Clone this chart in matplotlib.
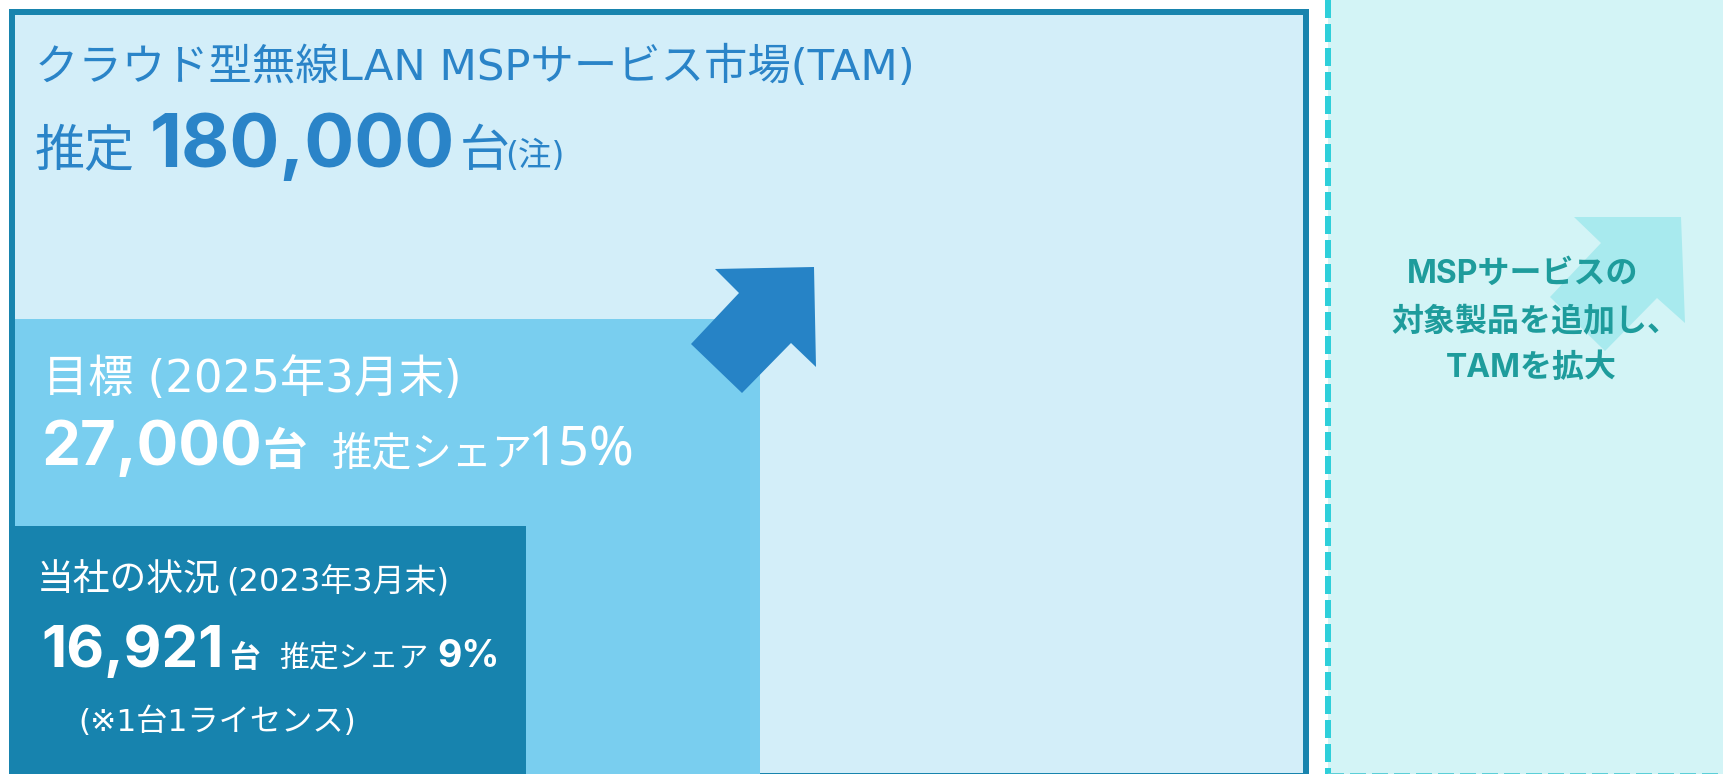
import matplotlib
matplotlib.use("Agg")
import matplotlib.pyplot as plt
from matplotlib.patches import Rectangle, Polygon

REG = ['DejaVu Sans', 'Noto Sans CJK JP']
NUM = ['Noto Sans', 'Noto Sans CJK JP']
BOLD = ['Inter', 'Noto Sans CJK JP']
plt.rcParams['font.family'] = REG

# ---- data ----
box_titles = ["クラウド型無線LAN MSPサービス市場(TAM)", "目標 (2025年3月末)", "当社の状況"]
box_units = [180000, 27000, 16921]
box_shares = [None, 15, 9]
current_period = "(2023年3月末)"
license_note = "(※1台1ライセンス)"
tam_note = "(注)"
expand_lines = ["MSPサービスの", "対象製品を追加し、", "TAMを拡大"]

W, H = 1723, 774
DPI = 100
PT = 72.0 / DPI  # px -> pt

fig = plt.figure(figsize=(W / DPI, H / DPI), dpi=DPI)
ax = fig.add_axes([0, 0, 1, 1])
ax.set_xlim(0, W)
ax.set_ylim(H, 0)
ax.axis('off')
fig.patch.set_facecolor('white')

c_border = '#1884AE'
c_outer = '#D3EEF9'
c_mid = '#79CEEF'
c_dark = '#1783AE'
c_arrow = '#2683C6'
c_title = '#2A84C8'
c_right = '#D3F4F6'
c_dash = '#2ECFDA'
c_rarrow = '#A8EAEE'
c_teal = '#1E9C9C'

# right region (dashed)
ax.add_patch(Rectangle((1328, -20), 500, 796, facecolor=c_right, edgecolor='none', zorder=1))
ax.plot([1328, 1328], [0, 776], color=c_dash, lw=6 * PT, linestyle=(0, (3, 1)),
        dash_capstyle='butt', zorder=2)
ax.plot([1328, 1723], [773.5, 773.5], color='#5CCFD8', lw=2 * PT, linestyle=(0, (8, 3)),
        dash_capstyle='butt', zorder=2)

# outer TAM box
ax.add_patch(Rectangle((12, 12), 1294, 764, facecolor=c_outer, edgecolor=c_border,
                       lw=6 * PT, zorder=2, joinstyle='miter'))
# target box
ax.add_patch(Rectangle((15, 319), 745, 470, facecolor=c_mid, edgecolor='none', zorder=3))
# current box
ax.add_patch(Rectangle((9, 526), 517, 260, facecolor=c_dark, edgecolor='none', zorder=4))

# arrows
big_arrow = [(715, 269), (814, 267), (816, 367), (791, 343), (742, 393), (691, 344), (739, 293)]
ax.add_patch(Polygon(big_arrow, closed=True, facecolor=c_arrow, edgecolor='none', zorder=5))
small_arrow = [(1574, 217), (1681, 217), (1685, 323), (1657, 298), (1605, 351), (1550, 297), (1601, 243)]
ax.add_patch(Polygon(small_arrow, closed=True, facecolor=c_rarrow, edgecolor='none', zorder=3))


def t(x, y, s, size, color, weight='normal', ha='left', fam=REG):
    ax.text(x, y, s, fontsize=size, color=color, fontweight=weight, ha=ha, va='baseline',
            family=fam, zorder=10)


# TAM texts
t(35, 80, box_titles[0], 31.2, c_title)
t(35, 166, "推定", 36, c_title)
t(150, 167, f"{box_units[0]:,}", 53.5, c_title, 'bold', fam=BOLD)
t(460, 166, "台", 36, c_title)
t(505, 166, tam_note, 24, c_title)

# target texts
white = 'white'
t(43, 392, box_titles[1], 32.5, white)
t(42, 465, f"{box_units[1]:,}", 44.5, white, 'bold', fam=BOLD)
t(262, 465, "台", 32, white, 'bold', fam=BOLD)
t(332, 465, "推定シェア", 29, white)
t(527, 465, f"{box_shares[1]}%", 39, white, fam=NUM)

# current texts
t(37, 591, box_titles[2], 26.5, white)
t(226, 591, current_period, 23, white)
t(41, 667, f"{box_units[2]:,}", 42, white, 'bold', fam=BOLD)
t(229, 667, "台", 22, white, 'bold', fam=BOLD)
t(279, 667, "推定シェア", 21.5, white)
t(437, 667, f"{box_shares[2]}%", 27, white, 'bold', fam=BOLD)
t(78, 731, license_note, 22.5, white)

# right texts
for y, xc, s in zip([283, 330, 377], [1523, 1535, 1531], expand_lines):
    t(xc, y, s, 23, c_teal, 'bold', ha='center', fam=BOLD)

fig.savefig('out.png', dpi=DPI, facecolor='white')
